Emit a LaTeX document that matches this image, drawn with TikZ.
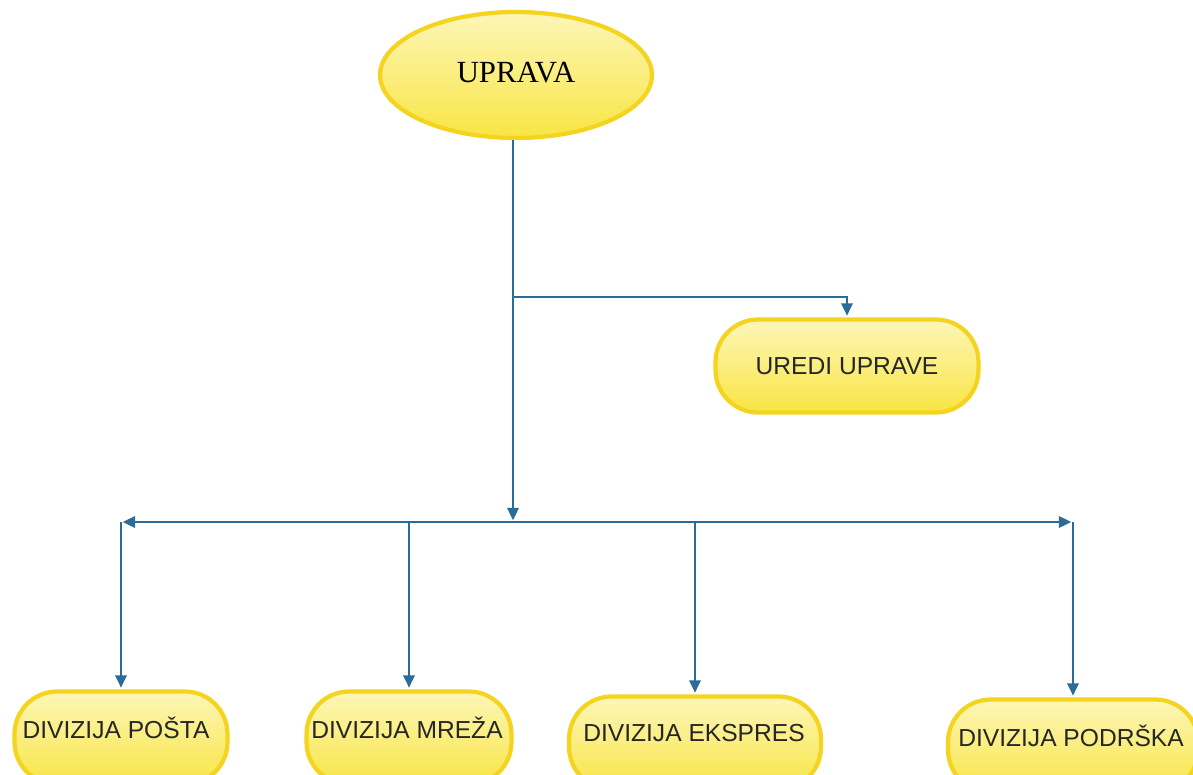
\documentclass[tikz,border=0pt]{standalone}
\usepackage{fontspec}
\setmainfont{Liberation Serif}
\setsansfont{Liberation Sans}
\usetikzlibrary{shapes.geometric,arrows.meta}
\definecolor{boxedge}{HTML}{F4D41E}
\definecolor{boxtop}{HTML}{FDF6B8}
\definecolor{boxbot}{HTML}{F8E544}
\definecolor{lineblue}{HTML}{2A6B98}
\tikzset{
  x=0.02cm, y=-0.02cm,
  pill/.style={draw=boxedge, line width=2.4pt, rounded corners=0.85cm,
    top color=boxtop, bottom color=boxbot, minimum height=1.86cm, inner sep=0pt},
  oval/.style={ellipse, draw=boxedge, line width=2.4pt,
    top color=boxtop, bottom color=boxbot, minimum width=5.44cm, minimum height=2.52cm, inner sep=0pt},
  lbl/.style={font=\sffamily\fontsize{14}{16}\selectfont, text=black!85, inner sep=0pt},
  ln/.style={draw=lineblue, line width=1.1pt},
  arr/.style={ln, -{Triangle[length=7pt,width=6.5pt]}, shorten >=1pt},
}
\begin{document}
\begin{tikzpicture}
\useasboundingbox (0,0) rectangle (1193,774);
\clip (0,0) rectangle (1193,774);
\fill[white] (0,0) rectangle (1193,774);

% nodes
\node[oval, font=\fontsize{17.5}{20}\selectfont] (uprava) at (516,75) {\raisebox{3pt}{UPRAVA}};
\node[pill, minimum width=5.26cm, lbl] (uredi) at (847,366) {UREDI UPRAVE};

\node[pill, minimum width=4.26cm] (posta) at (121,738) {};
\node[pill, minimum width=4.10cm] (mreza) at (409,738) {};
\node[pill, minimum width=5.04cm] (ekspres) at (695,743) {};
\node[pill, minimum width=5.0cm] (podrska) at (1073,746) {};

\node[lbl] (tposta) at (116,728) {DIVIZIJA POŠTA};
\node[lbl] (tmreza) at (407,728) {DIVIZIJA MREŽA};
\node[lbl] (tekspres) at (694,733) {DIVIZIJA EKSPRES};
\node[lbl] (tpodrska) at (1071,736) {DIVIZIJA PODRŠKA};

% junction coordinates
\coordinate (hub) at (513,522);
\coordinate (ju) at (513,297);
\coordinate (L) at (121,522);
\coordinate (R) at (1073,522);
\coordinate (m1) at (409,522);
\coordinate (m2) at (695,522);

% connectors
\draw[arr] (uprava.south -| hub) -- (hub);
\draw[arr] (ju) -| (uredi.north);
\draw[arr] (hub) -- (L);
\draw[arr] (hub) -- (R);
\draw[arr] (L) -- (posta.north);
\draw[arr] (m1) -- (mreza.north);
\draw[arr] (m2) -- (ekspres.north);
\draw[arr] (R) -- (podrska.north);
\end{tikzpicture}
\end{document}
